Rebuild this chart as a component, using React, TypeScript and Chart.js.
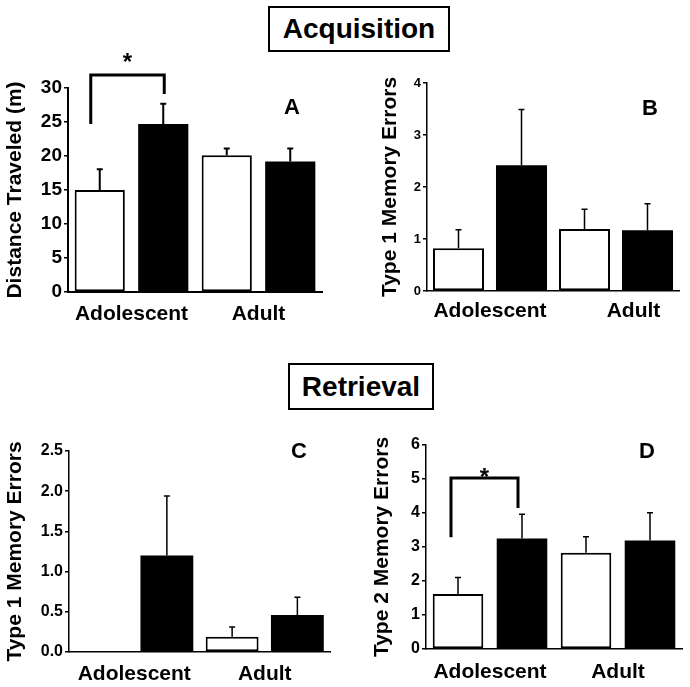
import React, { useEffect, useRef } from "react";
import { Chart, registerables } from "chart.js";
Chart.register(...registerables);

const FONT = "'Liberation Sans', Arial, Helvetica, sans-serif";

const categories = ["Adolescent", "Adult"];

// Panel A – Acquisition: distance traveled (m)
const aWhite = [15.0, 20.1];
const aWhiteSem = [3.05, 1.0];
const aBlack = [24.7, 19.2];
const aBlackSem = [3.0, 1.9];
const aTicks = [0, 5, 10, 15, 20, 25, 30];
const aBracket = [24.7, 31.9, 29.1]; // left leg bottom, top, right leg bottom
const aStar = 34.6;

// Panel B – Acquisition: type 1 memory errors
const bWhite = [0.82, 1.19];
const bWhiteSem = [0.36, 0.38];
const bBlack = [2.42, 1.17];
const bBlackSem = [1.07, 0.51];
const bTicks = [0, 1, 2, 3, 4];

// Panel C – Retrieval: type 1 memory errors
const cWhite = [0, 0.19];
const cWhiteSem = [0, 0.12];
const cBlack = [1.2, 0.46];
const cBlackSem = [0.74, 0.22];
const cTicks = [0, 0.5, 1.0, 1.5, 2.0, 2.5];

// Panel D – Retrieval: type 2 memory errors
const dWhite = [1.62, 2.83];
const dWhiteSem = [0.48, 0.47];
const dBlack = [3.25, 3.19];
const dBlackSem = [0.71, 0.82];
const dTicks = [0, 1, 2, 3, 4, 5, 6];
const dBracket = [3.29, 5.03, 4.15];
const dStar = 5.24;

const overlayPlugin = {
  id: "overlay",
  afterDatasetsDraw(chart: any, _args: any, opts: any) {
    const ctx = chart.ctx as CanvasRenderingContext2D;
    const ys = chart.scales.y;
    const area = chart.chartArea;
    ctx.save();
    ctx.strokeStyle = "#000";
    ctx.fillStyle = "#000";
    ctx.lineCap = "butt";
    chart.data.datasets.forEach((ds: any, di: number) => {
      const meta = chart.getDatasetMeta(di);
      meta.data.forEach((el: any, i: number) => {
        const v = ds.data[i];
        const e = ds.sem ? ds.sem[i] : 0;
        if (!e) return;
        const x = el.x;
        const y0 = ys.getPixelForValue(v);
        const y1 = ys.getPixelForValue(v + e);
        ctx.lineWidth = opts.errWidth || 2;
        ctx.beginPath();
        ctx.moveTo(x, y0);
        ctx.lineTo(x, y1);
        ctx.moveTo(x - 3, y1);
        ctx.lineTo(x + 3, y1);
        ctx.stroke();
      });
    });
    if (opts.bracket) {
      const [lb, tp, rb] = opts.bracket;
      const e0 = chart.getDatasetMeta(0).data[0];
      const e1 = chart.getDatasetMeta(1).data[0];
      const xl = e0.x + (opts.bracketDx ? opts.bracketDx[0] : 0);
      const xr = e1.x + (opts.bracketDx ? opts.bracketDx[1] : 0);
      ctx.lineWidth = 3;
      ctx.lineJoin = "miter";
      ctx.beginPath();
      ctx.moveTo(xl, ys.getPixelForValue(lb));
      ctx.lineTo(xl, ys.getPixelForValue(tp));
      ctx.lineTo(xr, ys.getPixelForValue(tp));
      ctx.lineTo(xr, ys.getPixelForValue(rb));
      ctx.stroke();
      const sz = 24;
      ctx.font = `bold ${sz}px ${FONT}`;
      ctx.textAlign = "center";
      ctx.textBaseline = "alphabetic";
      ctx.fillText("*", (xl + xr) / 2, ys.getPixelForValue(opts.star) + 0.57 * sz);
    }
    if (opts.letter) {
      const sz = 22;
      ctx.font = `bold ${sz}px ${FONT}`;
      ctx.textAlign = "center";
      ctx.textBaseline = "alphabetic";
      ctx.fillText(opts.letter, area.right + opts.letterDx, area.top + opts.letterDy + 0.36 * sz);
    }
    ctx.restore();
  },
};

type PanelSpec = {
  left: number;
  top: number;
  width: number;
  height: number;
  white: number[];
  whiteSem: number[];
  black: number[];
  blackSem: number[];
  ticks: number[];
  tickFmt?: (v: number) => string;
  catFmt?: (s: string) => string;
  title: string;
  pad: { left: number; right: number; top: number; bottom: number };
  yWidth: number;
  xHeight: number;
  titlePad: number;
  tickSize: number;
  catPad: number;
  barPct: number;
  axisWidth: number;
  errWidth: number;
  letter: string;
  letterDx: number;
  letterDy: number;
  bracket?: number[];
  bracketDx?: number[];
  star?: number;
};

function makeConfig(p: PanelSpec): any {
  const tmin = p.ticks[0];
  const tmax = p.ticks[p.ticks.length - 1];
  return {
    type: "bar",
    data: {
      labels: categories,
      datasets: [
        {
          label: "Open bars",
          data: p.white,
          sem: p.whiteSem,
          backgroundColor: "#ffffff",
          borderColor: "#000000",
          borderWidth: 2,
          borderSkipped: false,
        },
        {
          label: "Filled bars",
          data: p.black,
          sem: p.blackSem,
          backgroundColor: "#000000",
          borderColor: "#000000",
          borderWidth: 0,
        },
      ],
    },
    options: {
      responsive: false,
      animation: false,
      devicePixelRatio: 1,
      layout: { padding: p.pad },
      datasets: { bar: { categoryPercentage: 1, barPercentage: p.barPct } },
      plugins: {
        legend: { display: false },
        tooltip: { enabled: false },
        overlay: {
          errWidth: p.errWidth,
          letter: p.letter,
          letterDx: p.letterDx,
          letterDy: p.letterDy,
          bracket: p.bracket,
          bracketDx: p.bracketDx,
          star: p.star,
        },
      },
      scales: {
        x: {
          grid: { display: false },
          border: { display: true, color: "#000", width: p.axisWidth },
          ticks: {
            color: "#000",
            padding: p.catPad,
            maxRotation: 0,
            font: { family: FONT, size: 21, weight: "bold" },
            callback: function (this: any, _v: any, i: number) {
              const s = categories[i];
              return p.catFmt ? p.catFmt(s) : s;
            },
          },
          afterFit: (s: any) => {
            s.height = p.xHeight;
          },
        },
        y: {
          min: tmin,
          max: tmax,
          afterBuildTicks: (s: any) => {
            s.ticks = p.ticks.map((v) => ({ value: v }));
          },
          grid: {
            display: true,
            drawOnChartArea: false,
            drawTicks: true,
            tickLength: 4,
            color: "#000",
            lineWidth: 1.5,
          },
          border: { display: true, color: "#000", width: p.axisWidth },
          ticks: {
            color: "#000",
            padding: 2,
            font: { family: FONT, size: p.tickSize, weight: "bold" },
            callback: (v: any) => (p.tickFmt ? p.tickFmt(Number(v)) : String(v)),
          },
          title: {
            display: true,
            text: p.title,
            color: "#000",
            font: { family: FONT, size: 21, weight: "bold" },
            padding: { top: p.titlePad, bottom: 0 },
          },
          afterFit: (s: any) => {
            s.width = p.yWidth;
          },
        },
      },
    },
    plugins: [overlayPlugin],
  };
}

const panels: PanelSpec[] = [
  {
    left: 0, top: 40, width: 345, height: 300,
    white: aWhite, whiteSem: aWhiteSem, black: aBlack, blackSem: aBlackSem,
    ticks: aTicks, title: "Distance Traveled (m)",
    pad: { left: 0, right: 23, top: 48, bottom: 0 }, yWidth: 68, xHeight: 48,
    titlePad: 3, tickSize: 19, catPad: 2, barPct: 0.79, axisWidth: 2, errWidth: 2,
    letter: "A", letterDx: -30, letterDy: 18,
    bracket: aBracket, bracketDx: [-9, 1], star: aStar,
  },
  {
    left: 345, top: 40, width: 345, height: 300,
    white: bWhite, whiteSem: bWhiteSem, black: bBlack, blackSem: bBlackSem,
    ticks: bTicks, title: "Type 1 Memory Errors",
    catFmt: (s: string) => (s === "Adult" ? "\u00a0\u00a0\u00a0\u00a0\u00a0\u00a0" + s : s),
    pad: { left: 30, right: 11, top: 43, bottom: 0 }, yWidth: 52, xHeight: 49,
    titlePad: 3, tickSize: 13, catPad: 0, barPct: 0.81, axisWidth: 1.5, errWidth: 1.5,
    letter: "B", letterDx: -29, letterDy: 24,
  },
  {
    left: 0, top: 420, width: 345, height: 267,
    white: cWhite, whiteSem: cWhiteSem, black: cBlack, blackSem: cBlackSem,
    ticks: cTicks, tickFmt: (v: number) => v.toFixed(1), title: "Type 1 Memory Errors",
    pad: { left: 0, right: 15, top: 31, bottom: 0 }, yWidth: 69, xHeight: 35,
    titlePad: 3, tickSize: 16, catPad: 2, barPct: 0.81, axisWidth: 1.5, errWidth: 1.5,
    letter: "C", letterDx: -31, letterDy: -1,
  },
  {
    left: 345, top: 420, width: 345, height: 267,
    white: dWhite, whiteSem: dWhiteSem, black: dBlack, blackSem: dBlackSem,
    ticks: dTicks, title: "Type 2 Memory Errors",
    pad: { left: 22, right: 8, top: 25, bottom: 0 }, yWidth: 59, xHeight: 38,
    titlePad: 3, tickSize: 16, catPad: 3, barPct: 0.79, axisWidth: 1.5, errWidth: 1.5,
    letter: "D", letterDx: -35, letterDy: 5,
    bracket: dBracket, bracketDx: [-7, -4], star: dStar,
  },
];

function Panel({ spec }: { spec: PanelSpec }) {
  const ref = useRef<HTMLCanvasElement | null>(null);
  useEffect(() => {
    if (!ref.current) return;
    const chart = new Chart(ref.current, makeConfig(spec));
    return () => chart.destroy();
  }, [spec]);
  return (
    <canvas
      ref={ref}
      width={spec.width}
      height={spec.height}
      style={{ position: "absolute", left: spec.left, top: spec.top, width: spec.width, height: spec.height }}
    />
  );
}

function SectionBox({ text, left, top, width, height }: { text: string; left: number; top: number; width: number; height: number }) {
  return (
    <div
      style={{
        position: "absolute",
        left,
        top,
        width,
        height,
        boxSizing: "border-box",
        border: "2px solid #000",
        display: "flex",
        alignItems: "center",
        justifyContent: "center",
        fontFamily: FONT,
        fontWeight: "bold",
        fontSize: 28,
        color: "#000",
        background: "#fff",
        zIndex: 2,
      }}
    >
      {text}
    </div>
  );
}

export default function App() {
  return (
    <div style={{ position: "absolute", left: 0, top: 0, width: 690, height: 687, background: "#fff", overflow: "hidden" }}>
      {panels.map((p, i) => (
        <Panel key={i} spec={p} />
      ))}
      <SectionBox text="Acquisition" left={268} top={6} width={182} height={46} />
      <SectionBox text="Retrieval" left={288} top={363} width={146} height={47} />
    </div>
  );
}
